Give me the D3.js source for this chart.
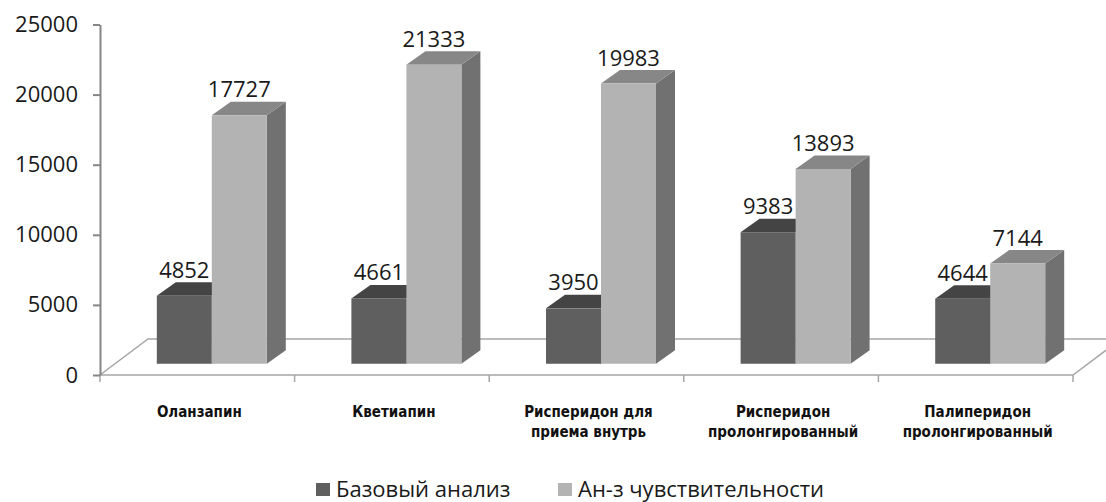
<!DOCTYPE html>
<html>
<head>
<meta charset="utf-8">
<script src="https://cdn.jsdelivr.net/npm/d3@7"></script>
<style>
  body { margin: 0; background: #fff; }
  svg { display: block; }
</style>
</head>
<body>
<svg width="1106" height="502"></svg>
<script>
// donnees du graphique
var categories = ["Оланзапин", "Кветиапин", "Рисперидон для\nприема внутрь", "Рисперидон\nпролонгированный", "Палиперидон\nпролонгированный"];
var seriesNames = ["Базовый анализ", "Ан-з чувствительности"];
var baseValues = [4852, 4661, 3950, 9383, 4644];
var sensValues = [17727, 21333, 19983, 13893, 7144];
var yTicks = [0, 5000, 10000, 15000, 20000, 25000];

var svg = d3.select("svg");

// couleurs : face, dessus, cote
var colors = [
  {front: "#5f5f5f", top: "#444444", side: "#3e3e3e"},
  {front: "#b3b3b3", top: "#878787", side: "#717171"}
];

var floorDepth = {dx: 48, dy: -36};   // profondeur du sol
var barDepth = {dx: 19, dy: -13.5};   // profondeur des barres
var shift = {dx: (floorDepth.dx - barDepth.dx) / 2, dy: (floorDepth.dy - barDepth.dy) / 2};

var x0 = d3.scaleBand().domain(categories).range([100, 1073]).paddingInner(0);
var x1 = d3.scaleBand().domain(seriesNames).range([0, 110]);
var y = d3.scaleLinear().domain([0, 25000]).range([375, 24.5]);

var table = categories.map(function(c, i) {
  return {cat: c, values: [baseValues[i], sensValues[i]]};
});

// sol en perspective
var fx0 = x0.range()[0], fx1 = x0.range()[1], fy = y(0);
svg.append("path")
  .attr("d", "M" + fx0 + "," + fy + "L" + fx1 + "," + fy +
    "L" + (fx1 + floorDepth.dx) + "," + (fy + floorDepth.dy) +
    "L" + (fx0 + floorDepth.dx) + "," + (fy + floorDepth.dy) + "Z")
  .attr("fill", "none")
  .attr("stroke", "#a6a6a6")
  .attr("stroke-width", 1.5);

// ticks des categories
var bounds = categories.map(function(c) { return x0(c); }).concat([fx1]);
svg.append("g").selectAll("line")
  .data(bounds)
  .enter().append("line")
  .attr("x1", function(d) { return d; })
  .attr("x2", function(d) { return d; })
  .attr("y1", fy)
  .attr("y2", fy + 7)
  .attr("stroke", "#a6a6a6")
  .attr("stroke-width", 1.5);

// Axe Y
var yAxis = svg.append("g")
  .attr("transform", "translate(100,0)")
  .call(d3.axisLeft(y).tickValues(yTicks).tickSize(7).tickSizeOuter(0).tickPadding(15).tickFormat(d3.format("d")));
yAxis.select(".domain").attr("stroke", "#868686").attr("stroke-width", 2);
yAxis.selectAll(".tick line").attr("stroke", "#868686").attr("stroke-width", 2);
yAxis.selectAll(".tick text")
  .attr("font-family", "Open Sans")
  .attr("font-size", 22)
  .attr("fill", "#1a1a1a");

// barres 3D
var bw = x1.bandwidth();
var groups = svg.append("g").selectAll("g")
  .data(table)
  .enter().append("g")
  .attr("transform", function(d) {
    return "translate(" + (x0(d.cat) + (x0.bandwidth() - 110) / 2 + shift.dx) + "," + shift.dy + ")";
  });

var bars = groups.selectAll("g")
  .data(function(d) { return d.values.map(function(v, k) { return {key: seriesNames[k], k: k, value: v}; }); })
  .enter().append("g");

bars.append("path") // cote
  .attr("fill", function(d) { return colors[d.k].side; })
  .attr("d", function(d) {
    var xr = x1(d.key) + bw, yt = y(d.value), yb = y(0);
    return "M" + xr + "," + yb + "L" + xr + "," + yt +
      "L" + (xr + barDepth.dx) + "," + (yt + barDepth.dy) +
      "L" + (xr + barDepth.dx) + "," + (yb + barDepth.dy) + "Z";
  });

bars.append("path") // dessus
  .attr("fill", function(d) { return colors[d.k].top; })
  .attr("d", function(d) {
    var xl = x1(d.key), yt = y(d.value);
    return "M" + xl + "," + yt + "L" + (xl + bw) + "," + yt +
      "L" + (xl + bw + barDepth.dx) + "," + (yt + barDepth.dy) +
      "L" + (xl + barDepth.dx) + "," + (yt + barDepth.dy) + "Z";
  });

bars.append("rect") // face
  .attr("x", function(d) { return x1(d.key); })
  .attr("y", function(d) { return y(d.value); })
  .attr("width", bw)
  .attr("height", function(d) { return y(0) - y(d.value); })
  .attr("fill", function(d) { return colors[d.k].front; });

bars.append("text")
  .attr("x", function(d) { return x1(d.key) + bw / 2; })
  .attr("y", function(d) { return y(d.value) + barDepth.dy - 4.5; })
  .attr("text-anchor", "middle")
  .attr("font-family", "Open Sans")
  .attr("font-size", 22)
  .attr("fill", "#1a1a1a")
  .text(function(d) { return d.value; });

// etiquettes des categories
var catLabels = svg.append("g").selectAll("text")
  .data(categories)
  .enter().append("text")
  .attr("x", function(d) { return x0(d) + x0.bandwidth() / 2 + 2; })
  .attr("y", 417)
  .attr("text-anchor", "middle")
  .attr("font-family", "DejaVu Sans Condensed, DejaVu Sans")
  .attr("font-stretch", "condensed")
  .attr("font-weight", "bold")
  .attr("font-size", 15)
  .attr("fill", "#111");

catLabels.selectAll("tspan")
  .data(function(d) { return d.split("\n"); })
  .enter().append("tspan")
  .attr("x", function() { return d3.select(this.parentNode).attr("x"); })
  .attr("dy", function(d, i) { return i ? 20 : 0; })
  .text(function(d) { return d; });

// Legende
var legendX = [316, 558];
var legend = svg.append("g").selectAll("g")
  .data(seriesNames)
  .enter().append("g")
  .attr("transform", function(d, i) { return "translate(" + legendX[i] + ",483)"; });

legend.append("rect")
  .attr("width", 14)
  .attr("height", 13)
  .attr("fill", function(d, i) { return colors[i].front; });

legend.append("text")
  .attr("x", 20)
  .attr("y", 14)
  .attr("font-family", "Open Sans")
  .attr("font-size", 22)
  .attr("fill", "#1a1a1a")
  .text(function(d) { return d; });
</script>
</body>
</html>
